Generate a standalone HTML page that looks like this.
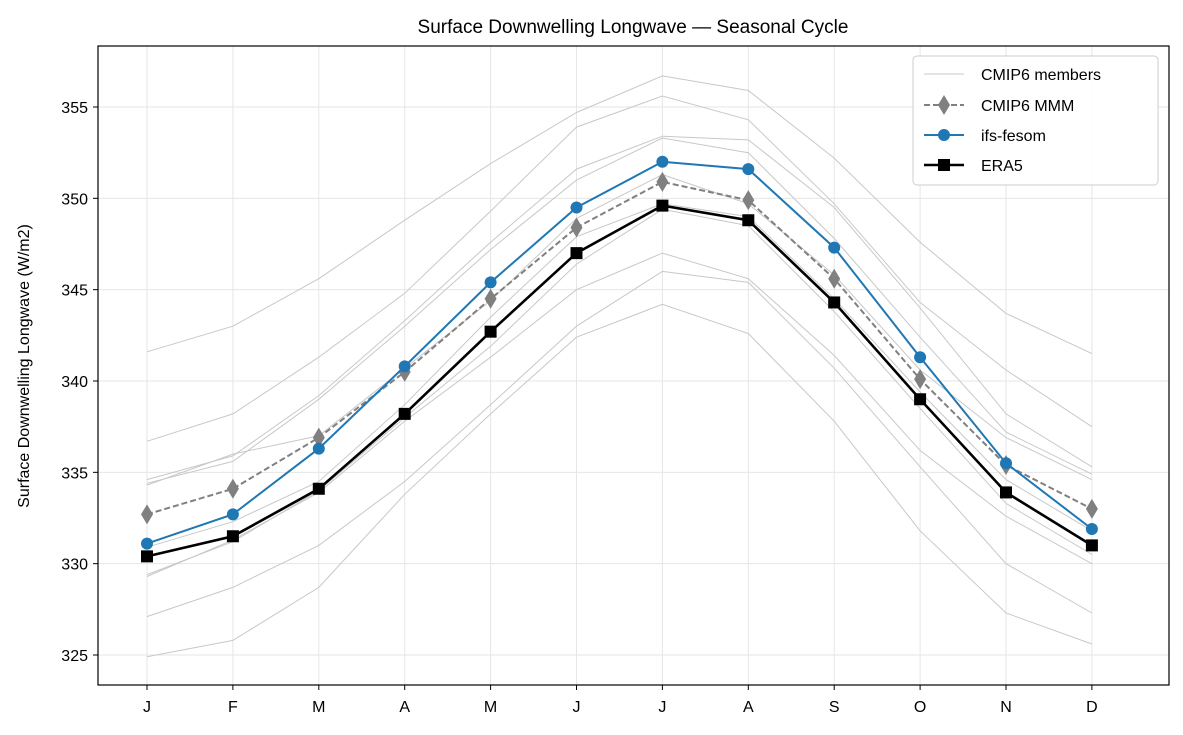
<!DOCTYPE html>
<html><head><meta charset="utf-8"><style>
html,body{margin:0;padding:0;background:#fff;}
svg{display:block;font-family:"Liberation Sans","DejaVu Sans",sans-serif;}
</style></head><body>
<svg id="s" width="1183" height="735" viewBox="0 0 1183 735" xmlns="http://www.w3.org/2000/svg">
<rect width="1183" height="735" fill="#fff"/>
<g id="grid"></g>
<g id="members" fill="none" stroke="#c8c8c8" stroke-width="1"></g>
<g id="main"></g>
<rect x="98" y="46" width="1071" height="639" fill="none" stroke="#000" stroke-width="1.2"/>
<g id="ticks" font-size="16" fill="#000"></g>
<text x="633" y="33" text-anchor="middle" font-size="19">Surface Downwelling Longwave — Seasonal Cycle</text>
<text transform="translate(29,366) rotate(-90)" text-anchor="middle" font-size="16">Surface Downwelling Longwave (W/m2)</text>
<g>
<rect x="913" y="56" width="245" height="129" rx="4" fill="#fff" fill-opacity="0.85" stroke="#ccc"/>
<line x1="924" y1="74" x2="964" y2="74" stroke="#c8c8c8" stroke-width="1"/>
<text x="981" y="80" font-size="16">CMIP6 members</text>
<line x1="924" y1="105" x2="964" y2="105" stroke="#808080" stroke-width="2" stroke-dasharray="6,3"/>
<path d="M944 95 L950 105 L944 115 L938 105Z" fill="#808080"/>
<text x="981" y="111" font-size="16">CMIP6 MMM</text>
<line x1="924" y1="135" x2="964" y2="135" stroke="#1f77b4" stroke-width="2"/>
<circle cx="944" cy="135" r="6" fill="#1f77b4"/>
<text x="981" y="141" font-size="16">ifs-fesom</text>
<line x1="924" y1="165" x2="964" y2="165" stroke="#000" stroke-width="2.6"/>
<rect x="938" y="159" width="12" height="12" fill="#000"/>
<text x="981" y="171" font-size="16">ERA5</text>
</g>
</svg>
<script>
const NS="http://www.w3.org/2000/svg";
const X=i=>147+i*85.9, Y=v=>655-(v-325)*18.267;
function el(p,t,a,txt){const e=document.createElementNS(NS,t);for(const k in a)e.setAttribute(k,a[k]);if(txt)e.textContent=txt;document.getElementById(p).appendChild(e);return e;}
const M="JFMAMJJASOND";
for(let i=0;i<12;i++){el("grid","line",{x1:X(i),x2:X(i),y1:46,y2:685,stroke:"#e6e6e6"});
el("ticks","line",{x1:X(i),x2:X(i),y1:685,y2:690,stroke:"#000"});
el("ticks","text",{x:X(i),y:712,"text-anchor":"middle"},M[i]);}
for(let v=325;v<=355;v+=5){el("grid","line",{x1:98,x2:1169,y1:Y(v),y2:Y(v),stroke:"#e6e6e6"});
el("ticks","line",{x1:93,x2:98,y1:Y(v),y2:Y(v),stroke:"#000"});
el("ticks","text",{x:88,y:Y(v)+6,"text-anchor":"end"},v);}
const mem=[[341.6,343.0,345.6,348.8,351.9,354.7,356.7,355.9,352.2,347.6,343.7,341.5],
[336.7,338.2,341.3,344.8,349.3,353.9,355.6,354.3,349.7,344.3,340.6,337.5],
[334.6,335.9,339.2,343.3,347.6,351.6,353.4,353.2,349.5,344.0,338.2,335.3],
[334.4,335.6,339.0,343.0,347.2,351.0,353.3,352.5,347.8,342.4,337.2,334.9],
[334.3,336.0,337.0,340.7,344.4,348.9,351.3,349.7,345.8,340.6,336.9,334.6],
[330.9,332.3,334.5,338.7,343.5,347.9,349.7,349.0,344.5,339.4,334.6,331.8],
[329.4,331.2,334.0,338.0,341.9,346.4,349.4,348.5,343.8,338.5,333.3,330.5],
[329.3,331.3,333.9,337.8,341.3,345.0,347.0,345.6,341.4,336.2,332.6,330.0],
[327.1,328.7,331.0,334.5,338.7,343.0,346.0,345.4,340.7,335.3,330.0,327.3],
[324.9,325.8,328.7,333.8,338.2,342.4,344.2,342.6,337.8,331.8,327.3,325.6]];
const pts=d=>d.map((v,i)=>X(i).toFixed(1)+","+Y(v).toFixed(1)).join(" ");
mem.forEach(d=>el("members","polyline",{points:pts(d)}));
const mmm=[332.7,334.1,336.9,340.5,344.5,348.4,350.9,349.9,345.6,340.1,335.4,333.0];
const ifs=[331.1,332.7,336.3,340.8,345.4,349.5,352.0,351.6,347.3,341.3,335.5,331.9];
const era=[330.4,331.5,334.1,338.2,342.7,347.0,349.6,348.8,344.3,339.0,333.9,331.0];
el("main","polyline",{points:pts(mmm),fill:"none",stroke:"#808080","stroke-width":2,"stroke-dasharray":"6,3"});
mmm.forEach((v,i)=>{const x=X(i),y=Y(v);el("main","path",{d:`M${x} ${y-10}L${x+6} ${y}L${x} ${y+10}L${x-6} ${y}Z`,fill:"#808080"});});
el("main","polyline",{points:pts(ifs),fill:"none",stroke:"#1f77b4","stroke-width":2});
ifs.forEach((v,i)=>el("main","circle",{cx:X(i),cy:Y(v),r:6,fill:"#1f77b4"}));
el("main","polyline",{points:pts(era),fill:"none",stroke:"#000","stroke-width":2.6});
era.forEach((v,i)=>el("main","rect",{x:X(i)-6,y:Y(v)-6,width:12,height:12,fill:"#000"}));
</script>
</body></html>
